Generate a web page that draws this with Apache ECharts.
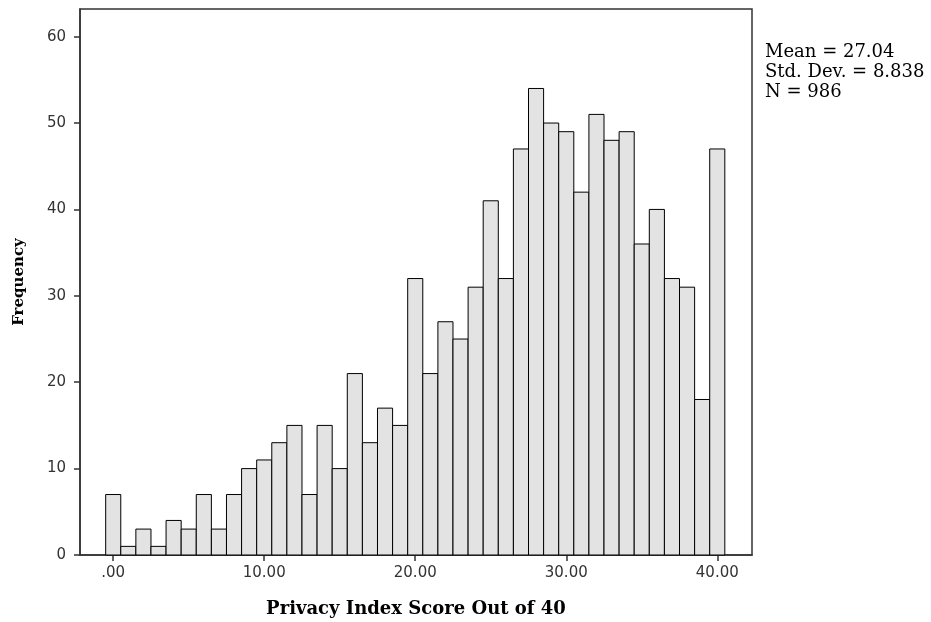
<!DOCTYPE html>
<html>
<head>
<meta charset="utf-8">
<script src="https://cdn.jsdelivr.net/npm/echarts@6/dist/echarts.min.js"></script>
<style>
    html, body { margin: 0; padding: 0; background: #fff; }
    #main { width: 931px; height: 622px; }
</style>
</head>
<body>
<div id="main"></div>
<script>
// score bins 0..40 and how many respondents fell in each
var scores = [0, 1, 2, 3, 4, 5, 6, 7, 8, 9, 10, 11, 12, 13, 14, 15, 16, 17, 18, 19, 20,
    21, 22, 23, 24, 25, 26, 27, 28, 29, 30, 31, 32, 33, 34, 35, 36, 37, 38, 39, 40];
var counts = [7, 1, 3, 1, 4, 3, 7, 3, 7, 10, 11, 13, 15, 7, 15, 10, 21, 13, 17, 15, 32,
    21, 27, 25, 31, 41, 32, 47, 54, 50, 49, 42, 51, 48, 49, 36, 40, 32, 31, 18, 47];
var xTicks = [0, 10, 20, 30, 40];
var yTicks = [0, 10, 20, 30, 40, 50, 60];
var stats = ['Mean = 27.04', 'Std. Dev. = 8.838', 'N = 986'];

var chart = echarts.init(document.getElementById('main'));

var histData = scores.map(function (s, i) {
    return [s, counts[i]];
});

// each bar spans one unit, centred on its score
function renderBar(params, api) {
    var x = api.value(0), y = api.value(1);
    var top = api.coord([x - 0.5, y]);
    var bottom = api.coord([x + 0.5, 0]);
    return {
        type: 'rect',
        shape: { x: top[0], y: top[1], width: bottom[0] - top[0], height: bottom[1] - top[1] },
        style: { fill: '#e3e3e3', stroke: '#000', lineWidth: 1 }
    };
}

var option = {
    backgroundColor: '#fff',
    animation: false,
    grid: {
        left: 80,
        right: 179,
        top: 9,
        bottom: 67,
        outerBoundsMode: 'none',
        show: true,
        borderColor: '#333',
        borderWidth: 1.5
    },
    xAxis: {
        type: 'value',
        min: -2.2,
        max: 42.3,
        name: 'Privacy Index Score Out of 40',
        nameLocation: 'middle',
        nameGap: 45,
        nameTextStyle: { fontFamily: 'DejaVu Serif', fontWeight: 'bold', fontSize: 18, color: '#000' },
        splitLine: { show: false },
        axisLine: { onZero: false, lineStyle: { color: '#333', width: 1.5 } },
        axisTick: { customValues: xTicks, length: 6, lineStyle: { color: '#333', width: 1.5 } },
        axisLabel: {
            customValues: xTicks,
            margin: 11,
            fontFamily: 'DejaVu Sans',
            fontSize: 15,
            color: '#333',
            formatter: function (v) {
                return v === 0 ? '.00' : v.toFixed(2);
            }
        }
    },
    yAxis: {
        type: 'value',
        min: 0,
        max: 63.2,
        name: 'Frequency',
        nameLocation: 'middle',
        nameGap: 53,
        nameTextStyle: { fontFamily: 'DejaVu Serif', fontWeight: 'bold', fontSize: 15, color: '#000' },
        splitLine: { show: false },
        axisLine: { show: true, onZero: false, lineStyle: { color: '#333', width: 1.5 } },
        axisTick: { show: true, customValues: yTicks, length: 6, lineStyle: { color: '#333', width: 1.5 } },
        axisLabel: {
            customValues: yTicks,
            margin: 14,
            fontFamily: 'DejaVu Sans',
            fontSize: 15,
            color: '#333'
        }
    },
    graphic: [{
        type: 'text',
        left: 765,
        top: 42,
        style: {
            text: stats.join('\n'),
            fontFamily: 'DejaVu Serif',
            fontSize: 18,
            lineHeight: 20,
            fill: '#000'
        }
    }],
    series: [{
        type: 'custom',
        renderItem: renderBar,
        encode: { x: 0, y: 1 },
        data: histData
    }]
};

chart.setOption(option);
</script>
</body>
</html>
